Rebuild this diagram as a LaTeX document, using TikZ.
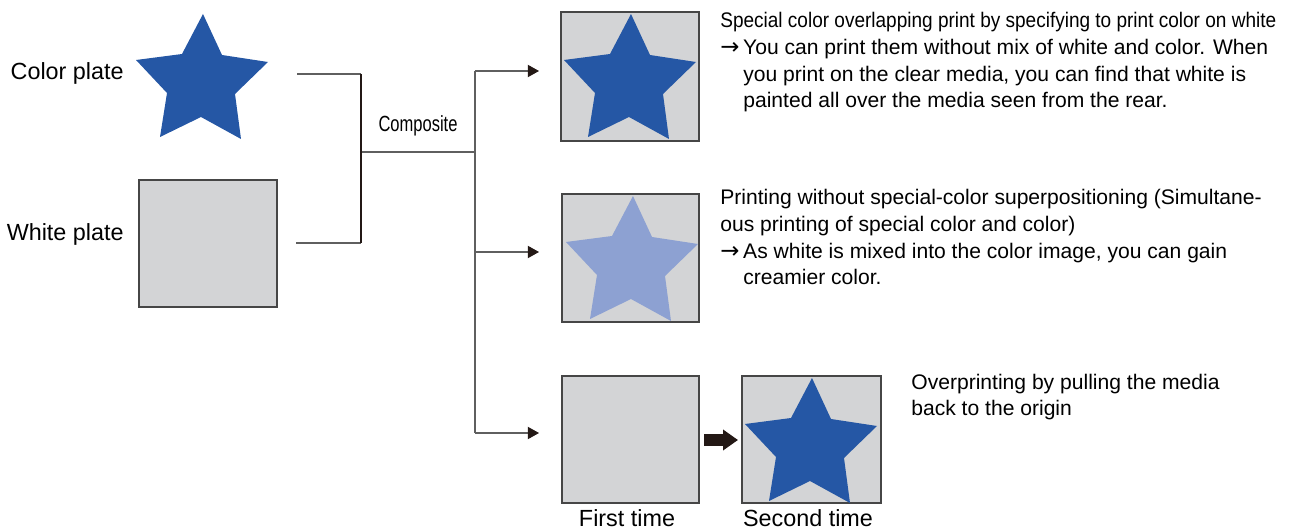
\documentclass[tikz,border=0pt]{standalone}
\usepackage{graphicx}
\usepackage{fontspec}
\setmainfont{Liberation Sans}
\newfontfamily\arrfont{DejaVu Sans}
\usetikzlibrary{arrows.meta}
\definecolor{starblue}{RGB}{37,87,165}
\definecolor{starlight}{RGB}{141,161,210}
\definecolor{plategray}{RGB}{211,212,214}
\definecolor{edgegray}{RGB}{70,70,70}
\definecolor{linegray}{RGB}{95,95,95}
\definecolor{darkink}{RGB}{35,24,21}
\newcommand{\drawstar}[3]{\fill[#3, shift={(#1,#2)}] (0,0) -- (19,41) -- (65,48) -- (32,80) -- (38,125) -- (-2,103) -- (-43,123) -- (-36,79) -- (-67,46) -- (-21,40) -- cycle;}
\newcommand{\arrmark}{\makebox[13pt][l]{\arrfont\fontsize{13}{15}\selectfont →}}
\tikzset{
  plate/.style={draw=edgegray, line width=0.6pt, fill=plategray},
  lbl/.style={inner sep=0pt, font=\fontsize{13.3}{16}\selectfont},
  desc/.style={inner sep=0pt, anchor=base west, font=\fontsize{12}{15}\selectfont},
  conn/.style={draw=linegray, line width=0.6pt},
  arrconn/.style={conn, -{Triangle[length=6.4pt, width=7pt, color=darkink]}},
}
\begin{document}
\begin{tikzpicture}[x=0.02cm, y=-0.02cm]
\useasboundingbox (0,0) rectangle (1289,530);
% plates
\drawstar{203}{14}{starblue}
\node[lbl, anchor=base east] (colorlbl) at (124,80) {Color plate};
\draw[plate] (139,180) rectangle (277,307);
\node[lbl, anchor=base east] (whitelbl) at (124,241) {White plate};
% result boxes
\draw[plate] (561,12) rectangle (699,141);
\drawstar{631}{14}{starblue}
\draw[plate] (562,194) rectangle (699,322);
\drawstar{633}{196}{starlight}
\draw[plate] (562,376) rectangle (699,503);
\draw[plate] (742,376) rectangle (881,503);
\drawstar{812}{378}{starblue}
\node[lbl, anchor=base] (first) at (627,526) {First time};
\node[lbl, anchor=base] (second) at (808,526) {Second time};
% connectors
\coordinate (c1) at (297,74);
\coordinate (c2) at (296,243);
\coordinate (b1) at (361,74);
\coordinate (b2) at (361,243);
\coordinate (bm) at (362,152);
\coordinate (j) at (475,152);
\coordinate (jt) at (475,71);
\coordinate (jm) at (475,252);
\coordinate (jb) at (475,433);
\coordinate (t1) at (539,71);
\coordinate (t2) at (539,252);
\coordinate (t3) at (539,433);
\draw[conn] (c1) -- (b1);
\draw[conn] (c2) -- (b2);
\draw[draw=darkink, line width=1.2pt] (b1) -- (b2);
\draw[conn] (bm) -- (j);
\draw[conn] (jt) -- (jb);
\node[inner sep=0pt, anchor=base, font=\fontsize{12.5}{15}\selectfont] (comp) at (418,132) {\resizebox{1.58cm}{\height}{Composite}};
\draw[arrconn] (jt) -- (t1);
\draw[arrconn] (jm) -- (t2);
\draw[arrconn] (jb) -- (t3);
% thick arrow
\coordinate (ta) at (704,440);
\coordinate (tb) at (738,440);
\draw[draw=darkink, line width=0.24cm, -{Triangle[length=0.3cm, width=0.4cm, color=darkink]}] (ta) -- (tb);
% descriptions
\node[desc] (d11) at (720,28) {\resizebox{11.12cm}{\height}{Special color overlapping print by specifying to print color on white}};
\node[desc] (d12) at (720,55) {\arrmark You can print them without mix of white and color. When};
\node[desc] (d13) at (743,82) {you print on the clear media, you can find that white is};
\node[desc] (d14) at (743,108) {painted all over the media seen from the rear.};
\node[desc] (d21) at (720,205) {Printing without special-color superpositioning (Simultane-};
\node[desc] (d22) at (720,232) {ous printing of special color and color)};
\node[desc] (d23) at (720,259) {\arrmark As white is mixed into the color image, you can gain};
\node[desc] (d24) at (743,285) {creamier color.};
\node[desc] (d31) at (911,390) {Overprinting by pulling the media};
\node[desc] (d32) at (911,416) {back to the origin};
\end{tikzpicture}
\end{document}
